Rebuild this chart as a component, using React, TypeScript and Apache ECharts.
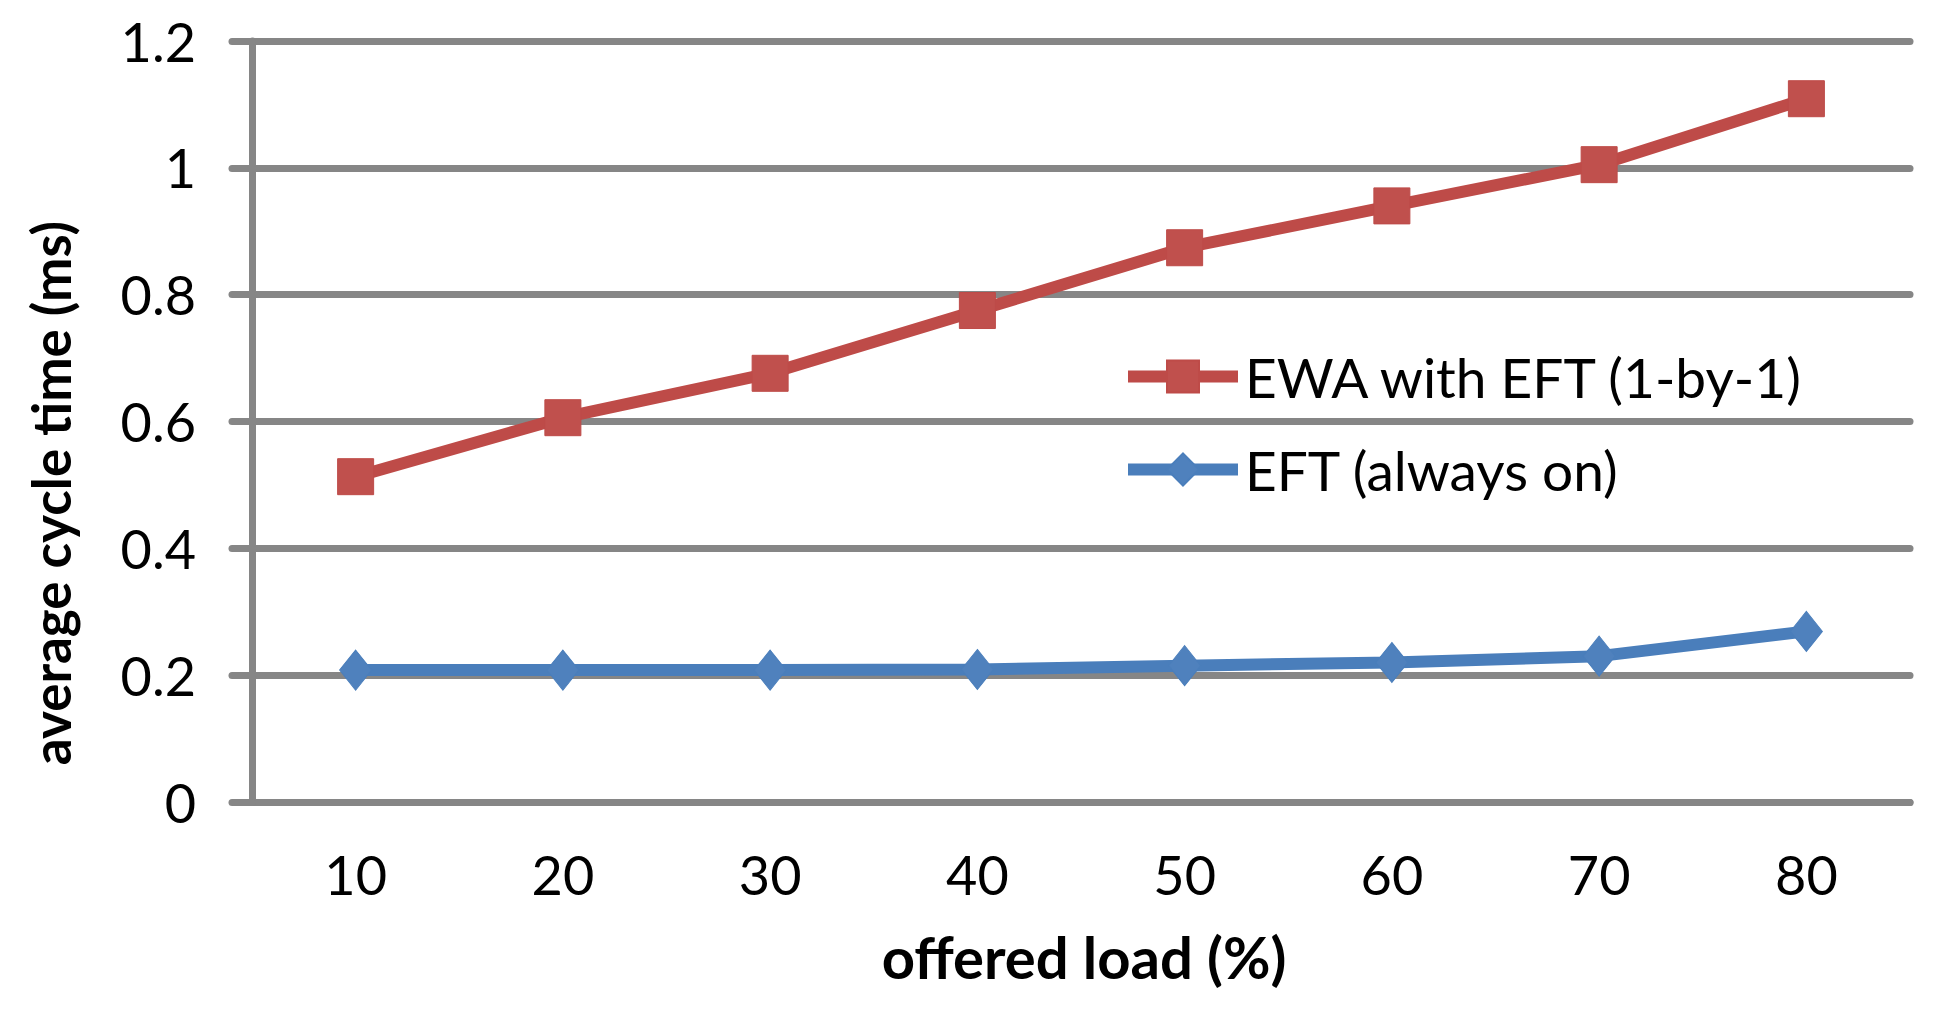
import React, { useEffect, useRef } from "react";
import * as echarts from "echarts";

const categories = ["10", "20", "30", "40", "50", "60", "70", "80"];
const ewaValues = [0.513, 0.606, 0.676, 0.775, 0.874, 0.94, 1.005, 1.109];
const eftValues = [0.208, 0.208, 0.208, 0.209, 0.215, 0.22, 0.23, 0.269];
const seriesNames = ["EWA with EFT (1-by-1)", "EFT (always on)"];
const yTitle = "average cycle time (ms)";
const xTitle = "offered load (%)";

const FONT = "Lato, 'Open Sans', sans-serif";
const GRID = "#868686";

export default function App() {
  const ref = useRef<HTMLDivElement>(null);
  useEffect(() => {
    document.body.style.margin = "0";
    const chart = echarts.init(ref.current!, null, { renderer: "svg" });
    chart.setOption({
      animation: false,
      backgroundColor: "#ffffff",
      textStyle: { fontFamily: FONT },
      grid: { left: 252, right: 32, top: 41, bottom: 208, containLabel: false },
      legend: {
        orient: "vertical",
        left: 1117,
        top: 344,
        itemWidth: 110,
        itemHeight: 40,
        itemGap: 38,
        selectedMode: false,
        lineStyle: { width: 12 },
        textStyle: { fontFamily: FONT, fontSize: 55, lineHeight: 44, color: "#000", padding: [0, 0, 0, 2] },
        data: seriesNames,
      },
      graphic: [
        {
          type: "text",
          x: 50,
          y: 493,
          rotation: Math.PI / 2,
          style: {
            text: yTitle,
            fontFamily: FONT,
            fontSize: 53,
            fontWeight: "bold",
            fill: "#000",
            align: "center",
            verticalAlign: "middle",
          },
        },
        {
          type: "text",
          x: 1084,
          y: 956,
          style: {
            text: xTitle,
            fontFamily: FONT,
            fontSize: 58,
            fontWeight: "bold",
            fill: "#000",
            align: "center",
            verticalAlign: "middle",
          },
        },
      ],
      xAxis: {
        type: "category",
        data: categories,
        boundaryGap: true,
        axisLine: { lineStyle: { color: GRID, width: 7, cap: "round" } },
        axisTick: { length: 18, lineStyle: { color: GRID, width: 7, cap: "round" } },
        axisLabel: { fontFamily: FONT, fontSize: 54, color: "#000", margin: 45 },
        splitLine: { show: false },
      },
      yAxis: {
        type: "value",
        min: 0,
        max: 1.2,
        interval: 0.2,
        axisLine: { show: true, lineStyle: { color: GRID, width: 7 } },
        axisTick: { show: true, length: 20, lineStyle: { color: GRID, width: 7, cap: "round" } },
        axisLabel: { fontFamily: FONT, fontSize: 54, color: "#000", margin: 56 },
        splitLine: { show: true, lineStyle: { color: GRID, width: 7, cap: "round" } },
      },
      series: [
        {
          name: seriesNames[0],
          type: "line",
          data: ewaValues,
          symbol: "rect",
          symbolSize: 36,
          lineStyle: { color: "#BE4B48", width: 12 },
          itemStyle: { color: "#C0504D", borderColor: "#BE4B48", borderWidth: 1 },
          z: 3,
        },
        {
          name: seriesNames[1],
          type: "line",
          data: eftValues,
          symbol: "diamond",
          symbolSize: [32, 40],
          lineStyle: { color: "#4A7EBB", width: 12 },
          itemStyle: { color: "#4F81BD", borderColor: "#4A7EBB", borderWidth: 1 },
          z: 3,
        },
      ],
    });
    return () => chart.dispose();
  }, []);
  return <div ref={ref} style={{ width: 1942, height: 1010 }} />;
}
